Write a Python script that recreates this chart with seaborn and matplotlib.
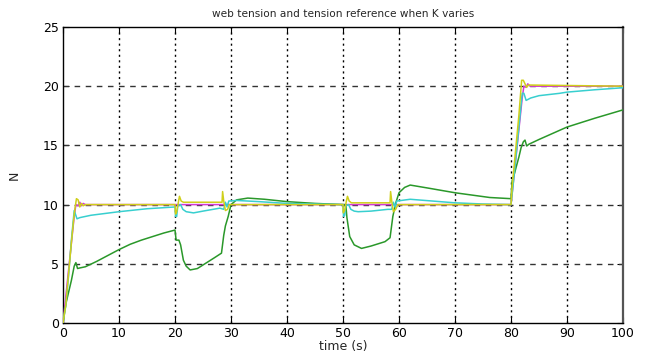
import matplotlib
matplotlib.use("Agg")
import matplotlib.pyplot as plt
import seaborn as sns
import pandas as pd

# ---------------- data ----------------
ref_t = [0, 0.4, 0.8, 1.2, 1.6, 2.0, 2.3, 2.7, 3.0, 3.3, 3.6, 4.0, 80.0, 80.4, 80.8, 81.2, 81.6, 82.0, 82.3, 82.7, 83.0, 83.4, 100]
ref_v = [0, 1.8, 3.6, 5.4, 7.2, 9.0, 10.0, 9.9, 10.2, 9.9, 10.1, 10.0, 10.0, 11.8, 13.6, 15.4, 17.2, 19.0, 20.0, 19.9, 20.2, 20.0, 20.0]

yel_t = [0, 0.5, 1.0, 1.5, 2.0, 2.4, 2.7, 3.0, 3.3, 3.6, 4.0, 20.0, 20.1, 20.3, 20.6, 20.8, 21.1, 21.5, 28.4, 28.5, 28.7, 29.0, 29.4, 29.7, 30.0,
         50.0, 50.05, 50.3, 50.6, 50.8, 51.1, 51.5, 58.4, 58.5, 58.7, 59.0, 59.4, 59.8, 80.0, 80.2, 80.6, 81.0, 81.4, 81.9, 82.2, 82.5, 82.8, 83.1, 100]
yel_v = [0, 1.5, 4.2, 6.8, 9.2, 10.5, 10.4, 9.8, 10.1, 9.9, 10.0, 10.0, 9.2, 9.4, 10.2, 10.7, 10.3, 10.2, 10.2, 11.1, 10.3, 9.5, 9.6, 10.0, 10.0,
         10.0, 9.3, 9.5, 10.3, 10.7, 10.3, 10.15, 10.15, 11.1, 10.3, 9.4, 9.6, 10.0, 10.0, 11.5, 13.5, 15.5, 17.5, 20.5, 20.5, 20.2, 19.9, 20.1, 20.0]

cya_t = [0, 0.5, 1.0, 1.5, 2.0, 2.5, 3.0, 5.0, 10.0, 15.0, 20.0, 20.1, 20.3, 20.5, 21.0, 21.4, 22.0, 23.3, 25.0, 28.0, 28.7, 29.0, 29.3, 29.6, 31.0, 35.0, 40.0, 45.0, 50.0,
         50.1, 50.3, 50.5, 51.0, 51.4, 52.0, 52.7, 55.0, 58.0, 58.7, 59.0, 59.3, 59.6, 62.0, 66.0, 70.0, 75.0, 80.0,
         80.5, 81.0, 81.5, 82.0, 82.3, 82.7, 83.5, 85.0, 88.7, 90.0, 95.0, 100.0]
cya_v = [0, 1.5, 4.0, 7.0, 9.5, 8.8, 8.9, 9.1, 9.4, 9.65, 9.8, 9.0, 9.0, 9.9, 10.0, 9.6, 9.4, 9.3, 9.45, 9.7, 9.6, 10.2, 9.8, 10.3, 10.35, 10.25, 10.1, 10.05, 10.0,
         9.0, 9.1, 9.9, 10.0, 9.6, 9.45, 9.4, 9.45, 9.6, 9.6, 10.2, 9.8, 10.3, 10.45, 10.3, 10.15, 10.05, 10.0,
         12.2, 14.6, 17.0, 19.4, 19.4, 18.8, 19.0, 19.2, 19.4, 19.5, 19.7, 19.87]

grn_t = [0, 0.3, 0.6, 1.0, 1.5, 2.0, 2.3, 2.6, 3.0, 4.0, 6.0, 8.0, 10.0, 12.0, 14.0, 16.0, 18.0, 20.0,
         20.2, 20.7, 21.0, 21.5, 22.0, 22.7, 24.0, 25.0, 27.0, 28.3, 28.7, 29.0, 29.5, 30.0, 31.0, 33.0, 36.0, 40.0, 45.0, 50.0,
         50.5, 50.7, 51.2, 52.0, 53.3, 55.0, 57.5, 58.4, 58.9, 59.4, 60.0, 61.0, 62.0, 65.5, 70.0, 76.2, 80.0,
         80.2, 80.6, 81.0, 81.4, 81.8, 82.2, 82.5, 82.8, 83.2, 85.0, 90.0, 95.0, 100.0]
grn_v = [0, 1.0, 1.8, 2.6, 3.6, 4.8, 5.1, 4.6, 4.65, 4.75, 5.2, 5.7, 6.2, 6.65, 7.0, 7.3, 7.6, 7.85,
         7.0, 7.0, 6.6, 5.3, 4.8, 4.48, 4.6, 4.9, 5.5, 5.9, 7.4, 8.2, 9.0, 10.0, 10.4, 10.55, 10.45, 10.25, 10.1, 10.0,
         10.0, 8.9, 7.3, 6.6, 6.3, 6.5, 6.87, 7.2, 9.0, 10.1, 11.0, 11.45, 11.65, 11.37, 11.0, 10.6, 10.5,
         12.0, 12.6, 13.3, 14.0, 14.8, 15.3, 15.45, 14.95, 15.1, 15.5, 16.55, 17.3, 18.0]

x_ticks = [0, 10, 20, 30, 40, 50, 60, 70, 80, 90, 100]
y_ticks = [0, 5, 10, 15, 20, 25]

# ---------------- plotting ----------------
sns.set_theme(style="white")
plt.rcParams['font.family'] = ['DejaVu Sans']

fig = plt.figure(figsize=(6.5, 3.56), dpi=100)
ax = fig.add_axes([63/650, 33/356, 560/650, 296/356])

series = [
    (ref_t, ref_v, "#d23cd2"),
    (grn_t, grn_v, "#2a982a"),
    (cya_t, cya_v, "#38cfcf"),
    (yel_t, yel_v, "#cfcf1a"),
]
for t, v, c in series:
    df = pd.DataFrame({"t": t, "v": v})
    sns.lineplot(data=df, x="t", y="v", color=c, linewidth=1.1, ax=ax,
                 estimator=None, sort=False, zorder=3)

ax.set_xlim(0, 100)
ax.set_ylim(0, 25)
ax.set_xticks(x_ticks)
ax.set_yticks(y_ticks)
ax.set_xticklabels([str(x) for x in x_ticks])
ax.set_yticklabels([str(y) for y in y_ticks])

for x in x_ticks[1:-1]:
    ax.axvline(x, color="black", linestyle=(0, (1.5, 2.5)), linewidth=1.0, zorder=1)
for y in y_ticks[1:-1]:
    ax.axhline(y, color="#333333", linestyle=(0, (4, 4)), linewidth=1.0, zorder=1)

ax.tick_params(direction="in", length=4, width=0.8, colors="black", labelsize=9,
               top=True, right=True, bottom=True, left=True, pad=3)
for side in ["left", "top", "bottom"]:
    ax.spines[side].set_color("black")
    ax.spines[side].set_linewidth(1.0)
ax.spines["right"].set_color("#555555")
ax.spines["right"].set_linewidth(1.6)

ax.set_xlabel("time (s)", fontsize=9, labelpad=0)
ax.set_ylabel("N", fontsize=9, labelpad=16)
ax.set_title("web tension and tension reference when K varies", fontsize=7.6, pad=7)

fig.savefig("out.png", dpi=100)
